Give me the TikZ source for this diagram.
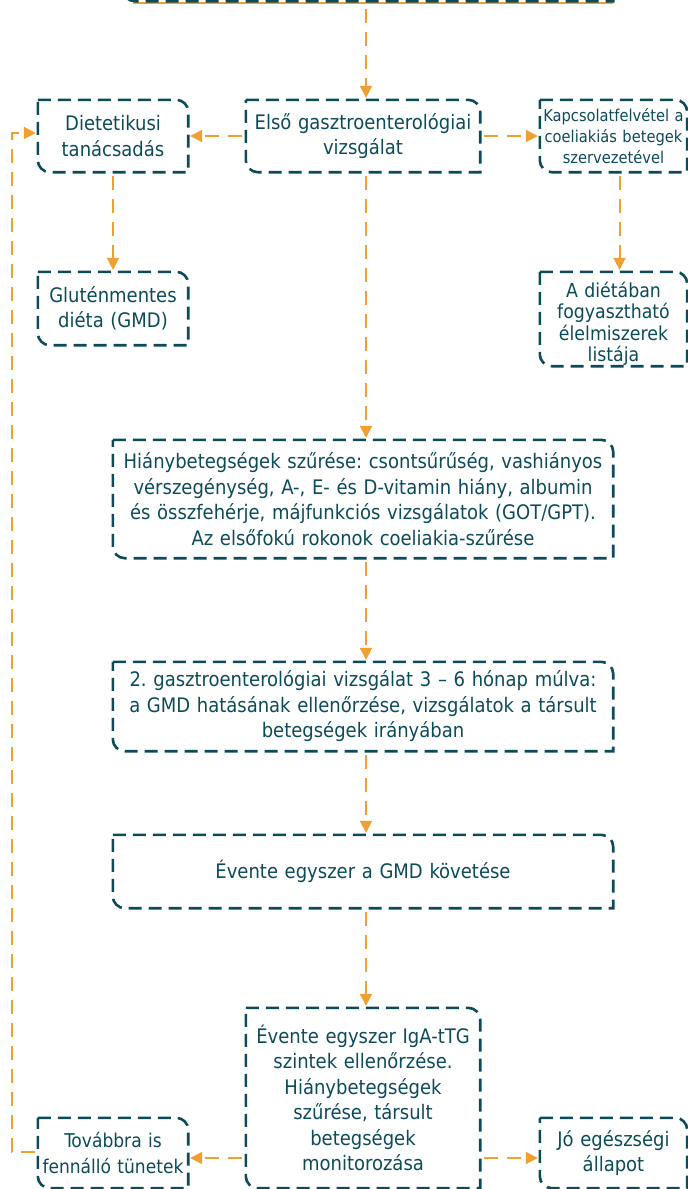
\documentclass[tikz,border=0pt]{standalone}
\usepackage{fontspec}
\setmainfont{DejaVu Sans Condensed}
\usetikzlibrary{arrows.meta}
\definecolor{tealc}{HTML}{0E4B59}
\definecolor{orgc}{HTML}{F0A030}
\tikzset{
 txt/.style={inner sep=0pt, align=center, text=tealc, font=\fontsize{20}{25.5}\selectfont},
 smalltxt/.style={txt, font=\fontsize{16.3}{21.3}\selectfont},
 listtxt/.style={txt, font=\fontsize{19.3}{21.5}\selectfont},
 bline/.style={draw=tealc, line width=2.6pt, dash pattern=on 13pt off 7pt},
 conn/.style={draw=orgc, line width=2pt, dash pattern=on 14pt off 9pt, -{Triangle[length=12pt,width=12pt]}, shorten <=4pt, shorten >=2pt},
}
\newcommand{\drawbox}[1]{\draw[bline] (#1.north west) -- ([xshift=-12pt]#1.north east) arc[start angle=90,end angle=0,radius=12pt] -- (#1.south east) -- ([xshift=12pt]#1.south west) arc[start angle=270,end angle=180,radius=12pt] -- cycle;}
\frenchspacing
\begin{document}
\begin{tikzpicture}[x=1pt,y=1pt]
\useasboundingbox (0,0) rectangle (688,-1189);
\fill[white] (0,0) rectangle (688,-1189);

% nodes
\node[txt, minimum width=490pt, minimum height=80pt] (top) at (368,39) {};
\node[txt, minimum width=234pt, minimum height=72pt, text width=232pt] (elso) at (363,-136) {Első gasztroenterológiai\\vizsgálat};
\node[txt, minimum width=150pt, minimum height=72pt, text width=148pt] (diet) at (113,-136) {Dietetikusi\\tanácsadás};
\node[smalltxt, minimum width=147pt, minimum height=72pt, text width=146pt] (kapcs) at (613.5,-136) {Kapcsolatfelvétel a\\coeliakiás betegek\\szervezetével};
\node[txt, minimum width=150pt, minimum height=73pt, text width=148pt] (glut) at (113,-308.5) {Gluténmentes\\diéta (GMD)};
\node[listtxt, minimum width=147pt, minimum height=94pt, text width=146pt] (list) at (613.5,-319) {};
\node[listtxt, text width=146pt] (listlabel) at ([yshift=-5pt]list.center) {A diétában\\fogyasztható\\élelmiszerek\\listája};
\node[txt, minimum width=500pt, minimum height=118pt, text width=498pt] (hiany) at (363,-499) {Hiánybetegségek szűrése: csontsűrűség, vashiányos\\vérszegénység, A-, E- és D-vitamin hiány, albumin\\és összfehérje, májfunkciós vizsgálatok (GOT/GPT).\\Az elsőfokú rokonok coeliakia-szűrése};
\node[txt, minimum width=500pt, minimum height=89pt, text width=498pt] (masodik) at (363,-706.5) {2. gasztroenterológiai vizsgálat 3 – 6 hónap múlva:\\a GMD hatásának ellenőrzése, vizsgálatok a társult\\betegségek irányában};
\node[txt, minimum width=500pt, minimum height=73pt, text width=498pt] (gmd) at (363,-871.5) {Évente egyszer a GMD követése};
\node[txt, minimum width=234pt, minimum height=180pt, text width=232pt] (iga) at (363,-1098) {Évente egyszer IgA-tTG\\szintek ellenőrzése.\\Hiánybetegségek\\szűrése, társult\\betegségek\\monitorozása};
\node[txt, font=\fontsize{19}{25.5}\selectfont, minimum width=150pt, minimum height=70pt, text width=148pt] (tov) at (113,-1153) {Továbbra is\\fennálló tünetek};
\node[txt, minimum width=147pt, minimum height=70pt, text width=146pt] (jo) at (613.5,-1153) {Jó egészségi\\állapot};

% borders
\draw[orgc, line width=1.5pt] ([xshift=10pt,yshift=-2pt]top.south west) -- ([yshift=-2pt]top.south east);
\foreach \n in {top,elso,diet,kapcs,glut,list,hiany,masodik,gmd,iga,tov,jo}{\drawbox{\n}}

% connectors
\draw[conn, shorten <=8pt] ([xshift=-2pt]top.south) -- ([xshift=3pt]elso.north);
\draw[conn] (elso.west) -- (diet.east);
\draw[conn] (elso.east) -- (kapcs.west);
\draw[conn] (diet.south) -- (glut.north);
\draw[conn] ([xshift=6pt]kapcs.south) -- ([xshift=6pt]list.north);
\draw[conn] ([xshift=3pt]elso.south) -- ([xshift=3pt]hiany.north);
\draw[conn] ([xshift=3pt]hiany.south) -- ([xshift=3pt]masodik.north);
\draw[conn] ([xshift=3pt]masodik.south) -- ([xshift=3pt]gmd.north);
\draw[conn] ([xshift=3pt]gmd.south) -- ([xshift=3pt]iga.north);
\draw[conn] ([yshift=-5pt]iga.west |- tov.east) -- ([yshift=-5pt]tov.east);
\draw[conn] ([yshift=-5pt]iga.east |- jo.west) -- ([yshift=-5pt]jo.west);
\draw[conn, shorten <=3pt] ([yshift=1pt]tov.west) -- ++(-26pt,0) |- ([yshift=3pt]diet.west);
\end{tikzpicture}
\end{document}
